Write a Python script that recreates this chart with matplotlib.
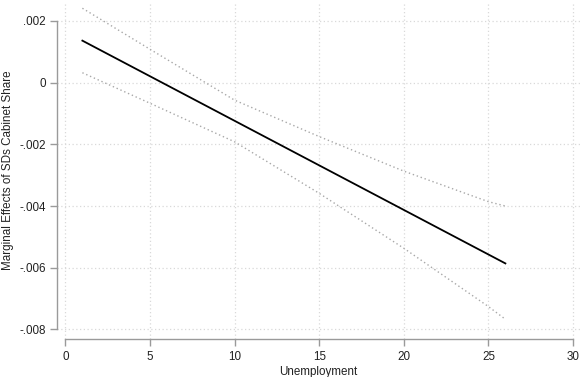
import matplotlib
matplotlib.use("Agg")
import matplotlib.pyplot as plt

# Data
unemp_main = [1, 26]
effect_main = [0.00136, -0.00586]

unemp_ci = [1, 5, 10, 15, 20, 25, 26]
ci_upper = [0.00241, 0.00108, -0.00057, -0.00175, -0.00287, -0.00386, -0.00400]
ci_lower = [0.00032, -0.00067, -0.00192, -0.00359, -0.00537, -0.00726, -0.00767]

xticks = [0, 5, 10, 15, 20, 25, 30]
yticks = [0.002, 0, -0.002, -0.004, -0.006, -0.008]
ytick_labels = [".002", "0", "-.002", "-.004", "-.006", "-.008"]

plt.rcParams['font.family'] = ['Liberation Sans', 'DejaVu Sans']

W, H = 580, 377
fig = plt.figure(figsize=(W / 100, H / 100), dpi=100)
left, right, top, bottom = 57, 580, 3, 339
ax = fig.add_axes([left / W, 1 - bottom / H, (right - left) / W, (bottom - top) / H])

ax.plot(unemp_ci, ci_upper, color="#a8a8a8", linestyle=(0, (1, 2)), linewidth=1.0)
ax.plot(unemp_ci, ci_lower, color="#a8a8a8", linestyle=(0, (1, 2)), linewidth=1.0)
ax.plot(unemp_main, effect_main, color="black", linewidth=1.3)

ax.set_xlim(-0.50, 30.41)
ax.set_ylim(-0.00831, 0.00258)

ax.set_xticks(xticks)
ax.set_xticklabels([str(t) for t in xticks])
ax.set_yticks(yticks)
ax.set_yticklabels(ytick_labels)

ax.grid(True, color="#d9d9d9", linestyle=(0, (1, 2)), linewidth=0.9)
ax.set_axisbelow(True)

for s in ["top", "right"]:
    ax.spines[s].set_visible(False)
ax.spines["left"].set_bounds(-0.008, 0.002)
ax.spines["bottom"].set_bounds(0, 30)
for s in ["left", "bottom"]:
    ax.spines[s].set_color("#9a9a9a")
    ax.spines[s].set_linewidth(1.0)

ax.tick_params(axis="both", colors="#9a9a9a", labelcolor="#222222", length=5,
               width=1.0, labelsize=8.4)
ax.tick_params(axis="y", pad=3)
ax.tick_params(axis="x", pad=4)

ax.set_xlabel("Unemployment", fontsize=8.4, color="#222222", labelpad=2)
fig.text(8 / W, 1 - 170 / H, "Marginal Effects of SDs Cabinet Share", rotation=90,
         ha="center", va="center", fontsize=8.4, color="#222222")

fig.savefig("out.png", dpi=100)
